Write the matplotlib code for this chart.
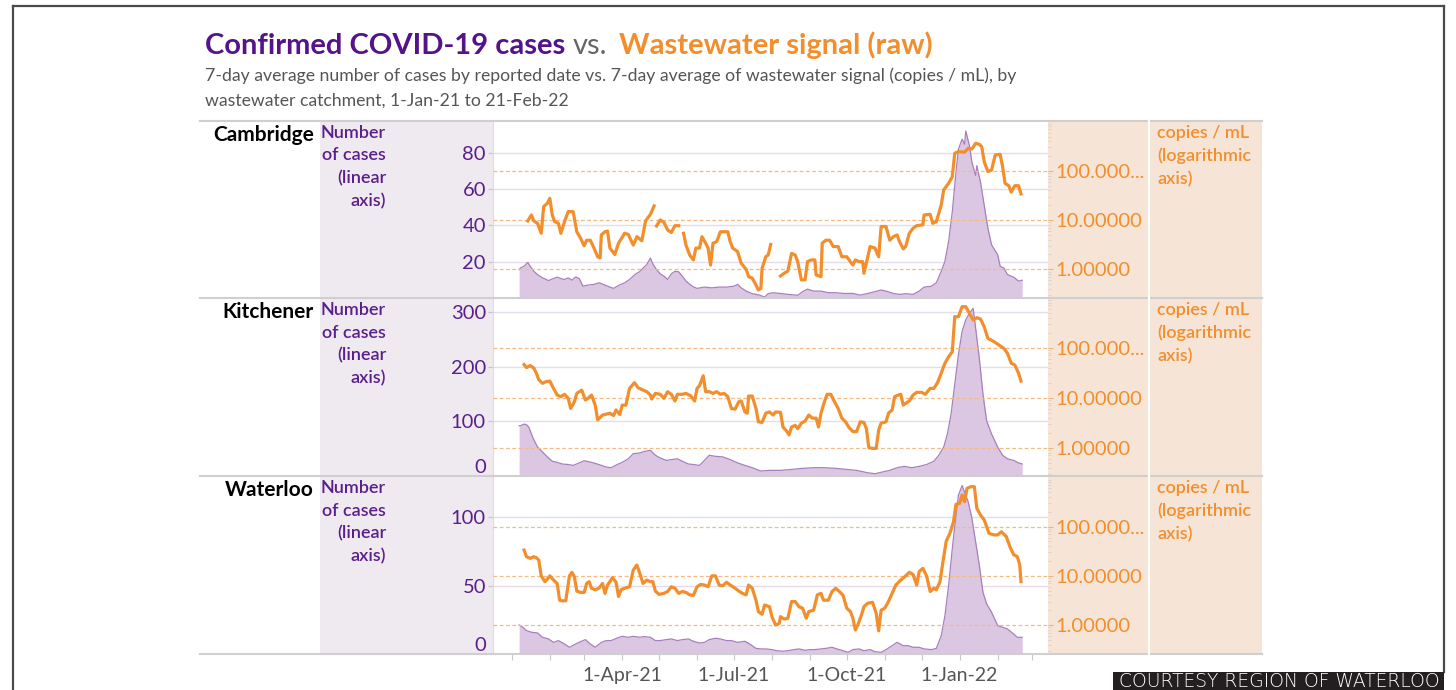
import numpy as np
import pandas as pd
import matplotlib
matplotlib.use("Agg")
import matplotlib.pyplot as plt
import matplotlib.dates as mdates
from matplotlib.patches import Rectangle
from matplotlib.lines import Line2D
from matplotlib.ticker import FixedLocator, FixedFormatter, NullFormatter, LogLocator, FuncFormatter

plt.rcParams['font.family'] = ['Lato', 'DejaVu Sans']

nan = np.nan
START = pd.Timestamp('2021-01-01')   # day 0 of the day offsets below

# ---- data: (days since 1-Jan-21, value) ----
# wastewater signal, copies / mL (7-day avg); nan = gap in the line
cambridge_ww = [(13, 9.6), (16, 12.7), (18, 9.6), (21, 8.6), (24, 5.4), (26, 18.8), (29, 21.9), (31, 27.7),
                (33, 12.7), (35, 9.3), (38, 8.6), (40, 5.4), (43, 9.3), (46, 14.9), (50, 14.9), (53, 5.8),
                (56, 4.3), (59, 3.0), (61, 3.9), (64, 3.9), (67, 2.7), (70, 1.8), (72, 1.7), (73, 5.0),
                (76, 5.8), (78, 6.0), (80, 2.7), (84, 2.0), (87, 3.4), (92, 5.4), (95, 5.1), (99, 3.1),
                (102, 4.6), (106, 3.8), (109, 9.6), (113, 13.1), (116, 19.4), (117, nan), (118, 7.6),
                (121, 10.1), (124, 9.0), (127, 6.3), (130, 5.6), (133, 7.7), (136, 7.7), (138, nan),
                (140, 5.4), (142, 3.1), (145, 1.95), (148, 1.55), (150, 2.7), (153, 2.7), (155, 4.6),
                (158, 3.4), (160, 2.7), (162, 1.22), (164, 3.4), (167, 3.65), (170, 5.8), (176, 5.8),
                (178, 3.65), (180, 2.7), (184, 2.3), (187, 1.32), (191, 1.0), (193, 0.71), (196, 0.66),
                (199, 0.48), (201, 0.38), (203, 0.41), (204, 1.05), (207, 1.8), (209, 1.95), (211, 3.2),
                (215, nan), (219, 0.73), (222, 0.83), (225, 0.92), (228, 2.1), (231, 1.95), (233, 1.43),
                (236, 0.61), (239, 0.61), (241, 1.43), (244, 1.55), (247, 1.55), (248, 0.77), (252, 0.71),
                (253, 3.4), (256, 3.9), (259, 3.9), (262, 2.9), (266, 2.9), (269, 1.8), (273, 1.8),
                (276, 1.43), (278, 1.22), (280, 1.55), (283, 1.43), (286, 1.43), (287, 0.83), (290, 1.73),
                (292, 2.9), (296, 2.7), (299, 1.8), (301, 7.4), (305, 7.4), (308, 3.9), (311, 4.6),
                (314, 5.0), (316, 3.65), (319, 2.6), (321, 2.9), (324, 5.4), (327, 6.8), (330, 7.7),
                (335, 8.0), (336, 12.7), (341, 13.1), (343, 8.6), (346, 9.3), (350, 20.3), (352, 41),
                (356, 56), (359, 76), (361, 228), (364, 246), (369, 239), (372, 288), (375, 279),
                (378, 364), (381, 347), (383, 311), (385, 154), (388, 97), (391, 104), (394, 211),
                (398, 217), (400, 122), (402, 56), (405, 50), (407, 37), (410, 50), (413, 50), (415, 34)]

kitchener_ww = [(10, 46), (12, 40), (15, 44), (18, 39), (20, 31), (22, 23), (25, 19.4), (28, 21), (31, 21.5),
                (34, 15.4), (37, 11.3), (40, 10.5), (43, 11.7), (46, 9.7), (48, 6.1), (51, 8.3), (53, 12.2),
                (57, 14.2), (60, 9.0), (62, 9.7), (65, 11.3), (68, 7.1), (70, 3.6), (74, 4.5), (80, 4.9),
                (83, 4.4), (85, 5.7), (88, 4.6), (90, 7.1), (93, 7.1), (96, 15.4), (100, 20), (103, 15.8),
                (107, 14.2), (110, 13.2), (113, 11.3), (114, 9.4), (117, 12.2), (121, 11.7), (124, 9.7),
                (127, 13.2), (130, 11.7), (133, 8.6), (135, 11.7), (139, 11.7), (142, 12.2), (146, 10.8),
                (149, 8.6), (151, 15.4), (153, 17.4), (156, 27.5), (158, 13.2), (161, 13.2), (164, 12.2),
                (167, 13.2), (170, 11.7), (173, 12.2), (176, 10.5), (179, 6.1), (182, 5.9), (185, 8.3),
                (187, 8.6), (190, 5.2), (192, 4.9), (193, 10.8), (196, 10.8), (199, 6.1), (201, 3.3),
                (204, 3.2), (207, 4.9), (210, 5.2), (213, 4.5), (215, 5.2), (219, 5.1), (221, 2.6),
                (224, 2.15), (226, 1.8), (228, 2.6), (231, 2.8), (233, 2.4), (236, 3.1), (239, 3.4),
                (242, 4.5), (245, 3.9), (248, 3.9), (250, 2.6), (252, 4.9), (255, 8.6), (257, 11.7),
                (260, 11.7), (263, 8.3), (266, 6.1), (269, 3.9), (272, 3.3), (275, 2.5), (278, 2.1),
                (281, 2.1), (284, 3.3), (287, 3.2), (289, 2.4), (291, 1.0), (294, 0.97), (297, 0.97),
                (299, 2.25), (301, 3.1), (305, 3.3), (307, 4.9), (310, 5.7), (312, 10.5), (315, 11.3),
                (317, 11.7), (319, 7.1), (321, 7.7), (324, 8.6), (327, 11.3), (330, 12.8), (334, 12.8),
                (337, 11.7), (341, 15.4), (344, 15.4), (347, 20), (350, 31), (353, 49), (356, 66),
                (359, 83), (361, 417), (364, 417), (367, 661), (370, 661), (373, 486), (376, 357),
                (379, 398), (382, 374), (385, 263), (388, 154), (393, 132), (397, 113), (401, 97),
                (404, 77), (407, 49), (410, 45), (413, 31), (415, 21.5)]

waterloo_ww = [(10, 33.5), (12, 24.5), (15, 22.7), (18, 24.5), (20, 23.4), (22, 21), (24, 10), (27, 7.6),
               (29, 8.6), (31, 10), (34, 8.2), (37, 7.0), (39, 3.2), (41, 3.1), (44, 3.1), (47, 10),
               (49, 11.8), (51, 9.6), (53, 4.9), (56, 4.6), (59, 4.6), (61, 7.0), (63, 7.6), (65, 5.6),
               (68, 5.2), (71, 5.6), (74, 7.0), (76, 4.4), (78, 6.5), (80, 7.6), (82, 9.2), (85, 7.4),
               (87, 3.8), (89, 5.2), (92, 5.6), (96, 6.0), (99, 13.1), (102, 16.6), (105, 10), (107, 7.0),
               (110, 8.2), (113, 7.6), (115, 7.6), (117, 4.9), (120, 4.2), (124, 4.4), (127, 4.8),
               (130, 6.0), (133, 5.6), (136, 4.4), (139, 4.8), (142, 4.6), (145, 4.1), (148, 4.0),
               (151, 6.0), (154, 6.7), (157, 6.5), (160, 6.0), (163, 10), (166, 10), (169, 6.5),
               (172, 6.3), (175, 7.4), (178, 6.5), (182, 5.6), (185, 4.9), (188, 4.4), (191, 4.1),
               (193, 6.5), (196, 5.6), (199, 3.2), (201, 1.87), (204, 1.65), (206, 2.55), (210, 2.36),
               (212, 1.48), (215, 1.0), (218, 1.08), (219, 1.48), (222, 1.32), (225, 1.37), (228, 3.0),
               (231, 3.0), (234, 2.36), (237, 2.2), (240, 1.37), (242, 1.87), (246, 2.0), (249, 4.1),
               (252, 4.4), (254, 3.2), (258, 3.2), (261, 4.8), (264, 5.6), (267, 4.8), (270, 4.0),
               (273, 2.2), (276, 1.87), (278, 1.37), (280, 0.79), (282, 1.0), (285, 1.6), (287, 2.36),
               (290, 2.76), (294, 2.9), (297, 1.73), (299, 0.76), (301, 2.0), (304, 2.2), (307, 3.0),
               (310, 4.4), (313, 6.5), (317, 8.2), (321, 10), (324, 11.8), (327, 10.7), (330, 6.5),
               (332, 12.2), (335, 14.2), (338, 10), (341, 4.8), (344, 5.6), (346, 5.2), (349, 7.6),
               (351, 16.6), (354, 50), (357, 73), (360, 126), (362, 285), (365, 298), (367, 441),
               (369, 322), (371, 602), (374, 651), (377, 651), (379, 236), (382, 173), (385, 137),
               (389, 73), (393, 68), (396, 68), (399, 79), (403, 63), (406, 39), (409, 27), (412, 24.5),
               (414, 16.6), (415, 7.6)]

# confirmed cases (7-day avg)
cambridge_cases = [(6, 15.6), (7, 16.5), (10, 17.5), (13, 19.6), (15, 17.5), (18, 14.7), (21, 12.9), (25, 11.1),
                   (30, 9.6), (34, 10.7), (37, 11.5), (40, 10.7), (43, 10.2), (46, 11.1), (49, 9.8), (52, 11.6),
                   (55, 10.7), (58, 6.5), (62, 7.1), (67, 7.5), (71, 8.4), (76, 7.1), (80, 6.0), (83, 5.3),
                   (87, 6.9), (92, 8.4), (96, 10.2), (101, 13.3), (104, 14.4), (107, 16.5), (110, 18.4),
                   (113, 22.0), (115, 18.7), (118, 15.6), (121, 13.3), (124, 12.0), (127, 10.2), (130, 13.3),
                   (133, 14.7), (136, 14.4), (139, 12.0), (142, 9.3), (147, 6.5), (151, 5.3), (157, 6.0),
                   (163, 5.6), (169, 6.0), (175, 6.0), (181, 6.5), (184, 7.5), (187, 5.6), (191, 3.8),
                   (196, 2.4), (202, 1.6), (206, 0.5), (209, 2.4), (213, 2.9), (219, 2.5), (225, 2.0),
                   (233, 1.5), (237, 3.5), (241, 4.9), (246, 3.8), (252, 3.8), (258, 2.9), (264, 2.9),
                   (271, 2.5), (278, 2.5), (284, 1.6), (290, 2.5), (296, 3.5), (301, 4.4), (305, 3.8),
                   (311, 2.5), (316, 2.0), (321, 2.4), (327, 2.0), (332, 3.8), (336, 6.0), (342, 6.5),
                   (346, 8.4), (350, 14.7), (353, 20.2), (356, 31.1), (359, 47.5), (362, 69.3), (364, 82),
                   (367, 87.5), (369, 84.7), (370, 92), (373, 83.8), (375, 74.7), (378, 67.5), (379, 72.9),
                   (382, 63.8), (385, 51.1), (388, 38.4), (391, 29.3), (396, 23.8), (398, 17.5), (401, 16.5),
                   (404, 12.9), (409, 11.5), (413, 9.3), (416, 9.8)]

kitchener_cases = [(6, 92), (7, 92), (10, 95), (12, 94), (14, 89), (17, 71), (21, 53), (25, 44), (29, 35),
                   (33, 27), (37, 25), (41, 22), (46, 21), (50, 19.4), (55, 24), (59, 28), (65, 25), (71, 21),
                   (77, 16.4), (81, 15.2), (86, 21), (90, 25), (95, 31.5), (99, 41), (104, 42), (108, 45),
                   (113, 47), (117, 38), (121, 33), (126, 28.5), (130, 30), (135, 31.5), (139, 27), (144, 22),
                   (148, 21), (153, 19.4), (157, 28.5), (161, 38), (166, 36), (172, 35), (178, 30), (184, 24),
                   (190, 19.4), (196, 15.2), (203, 9.1), (210, 10.3), (219, 10.3), (228, 12), (237, 14),
                   (246, 15.2), (255, 15.2), (264, 14), (273, 12), (281, 10.3), (290, 6), (296, 4.2),
                   (302, 7.3), (308, 10.3), (314, 15.2), (320, 17.6), (326, 15.2), (332, 17.6), (338, 21),
                   (344, 27), (348, 38), (352, 53), (355, 77), (358, 113), (361, 168), (364, 222), (367, 265),
                   (370, 286), (373, 298), (376, 307), (378, 271), (381, 216), (384, 150), (387, 101),
                   (391, 77), (396, 53), (400, 38), (404, 31.5), (409, 28.5), (413, 24), (416, 22)]

waterloo_cases = [(6, 21.2), (9, 19.5), (12, 17.1), (16, 15.9), (21, 15.4), (25, 12.2), (30, 11.0), (34, 8.5),
                  (38, 9.8), (43, 7.3), (47, 4.9), (52, 7.3), (56, 9.0), (60, 10.5), (64, 7.3), (68, 4.9),
                  (73, 8.5), (77, 9.8), (81, 9.8), (86, 11.7), (90, 12.9), (95, 12.2), (99, 12.9), (104, 12.2),
                  (108, 12.7), (113, 12.2), (117, 9.8), (121, 9.8), (126, 10.5), (130, 11.0), (135, 9.8),
                  (139, 10.5), (144, 11.0), (148, 9.3), (153, 8.0), (157, 8.5), (161, 10.5), (166, 11.5),
                  (170, 11.0), (175, 9.8), (179, 9.8), (184, 8.5), (190, 9.3), (194, 7.3), (199, 4.1),
                  (203, 3.7), (207, 3.7), (212, 3.2), (216, 2.4), (221, 2.0), (225, 2.4), (230, 3.2),
                  (234, 3.7), (239, 2.7), (243, 3.2), (247, 3.2), (252, 3.7), (256, 4.1), (261, 4.9),
                  (265, 3.7), (270, 2.4), (274, 1.2), (278, 3.2), (283, 3.7), (287, 2.4), (292, 3.2),
                  (296, 1.7), (301, 1.2), (305, 3.2), (310, 6.1), (314, 8.5), (319, 6.1), (323, 6.1),
                  (327, 4.9), (332, 4.9), (336, 3.7), (342, 3.2), (346, 4.1), (350, 13.4), (353, 28),
                  (356, 50), (359, 77), (362, 101), (364, 116), (367, 123), (369, 118), (372, 111), (375, 99),
                  (378, 82), (381, 65), (384, 45), (387, 36.6), (391, 30.5), (396, 20.7), (400, 19.5),
                  (404, 18.3), (409, 14.6), (412, 12.2), (416, 12.2)]

regions = ['Cambridge', 'Kitchener', 'Waterloo']
case_ticks = [[20, 40, 60, 80], [0, 100, 200, 300], [0, 50, 100]]
case_max = [97.5, 326, 130]
log_lims = [(0.261, 1033), (0.272, 986), (0.257, 1075)]
log_ticks = [1, 10, 100]
log_labels = ['1.00000', '10.00000', '100.000...']
quarter_labels = ['1-Apr-21', '1-Jul-21', '1-Oct-21', '1-Jan-22']

# ---- colours ----
PURPLE = '#5B1F8C'
ORANGE = '#F28E2B'
AREA = '#DCC7E2'
AREA_EDGE = '#A680BC'
LAV_BG = '#EFE9F0'
PEACH_BG = '#F6E5D6'

W, H = 1456, 690
fig = plt.figure(figsize=(W / 100, H / 100), dpi=100)
fig.patch.set_facecolor('white')


def fx(x):
    return x / W


def fy(y):
    return 1 - y / H


def hline(x0, x1, y, **kw):
    fig.add_artist(Line2D([fx(x0), fx(x1)], [fy(y), fy(y)], transform=fig.transFigure, **kw))


def vline(x, y0, y1, **kw):
    fig.add_artist(Line2D([fx(x), fx(x)], [fy(y0), fy(y1)], transform=fig.transFigure, **kw))


def date_label(v):
    d = mdates.num2date(v)
    s = f"{d.day}-{d:%b-%y}"
    return s if s in quarter_labels else ''


# page frame
vline(13, 6, 690, color='#4a4a4a', lw=1.6)
hline(13, 1444, 6, color='#4a4a4a', lw=1.6)
vline(1444, 6, 672, color='#4a4a4a', lw=1.6)

# column backgrounds
fig.add_artist(Rectangle((fx(320), fy(654)), (493 - 320) / W, (654 - 121) / H,
                         transform=fig.transFigure, facecolor=LAV_BG, edgecolor='none', zorder=0))
fig.add_artist(Rectangle((fx(1048), fy(654)), (1262 - 1048) / W, (654 - 121) / H,
                         transform=fig.transFigure, facecolor=PEACH_BG, edgecolor='none', zorder=0))

# title
renderer = fig.canvas.get_renderer()
x = 205
for txt, col, wt, gap in [('Confirmed COVID-19 cases', '#55128A', 'bold', 7),
                          ('vs.', '#666666', 'normal', 12),
                          ('Wastewater signal (raw)', ORANGE, 'bold', 0)]:
    t = fig.text(fx(x), fy(54), txt, color=col, fontsize=21, fontweight=wt, va='baseline')
    x = t.get_window_extent(renderer).x1 + gap
fig.text(fx(205), fy(81), '7-day average number of cases by reported date vs. 7-day average of '
         'wastewater signal (copies / mL), by', color='#555555', fontsize=12.7, va='baseline')
fig.text(fx(205), fy(106), 'wastewater catchment, 1-Jan-21 to 21-Feb-22',
         color='#555555', fontsize=12.7, va='baseline')

xmin = START - pd.Timedelta(days=15.3)
xmax = START + pd.Timedelta(days=437)

tops = [121, 298, 476]
bots = [298, 476, 654]
cases_all = [cambridge_cases, kitchener_cases, waterloo_cases]
ww_all = [cambridge_ww, kitchener_ww, waterloo_ww]

for i, name in enumerate(regions):
    top, bot = tops[i], bots[i]
    ax = fig.add_axes([fx(493), fy(bot), (1048 - 493) / W, (bot - top) / H])
    ax.set_facecolor('white')
    ax2 = ax.twinx()

    cd, cv = zip(*cases_all[i])
    cdates = START + pd.to_timedelta(list(cd), unit='D')
    ax.fill_between(cdates, 0, cv, color=AREA, lw=0, zorder=2)
    ax.plot(cdates, cv, color=AREA_EDGE, lw=0.9, zorder=3)

    wd, wv = zip(*ww_all[i])
    wdates = START + pd.to_timedelta(list(wd), unit='D')
    ax2.plot(wdates, wv, color=ORANGE, lw=2.3, solid_joinstyle='round', zorder=4)

    ax.set_xlim(xmin, xmax)
    ax.set_ylim(0, case_max[i])
    ax.set_yticks(case_ticks[i], labels=[str(v) for v in case_ticks[i]])
    for lbl in ax.get_yticklabels():
        if lbl.get_text() == '0':
            lbl.set_verticalalignment('bottom')
    ax.yaxis.grid(True, color='#E4DCEA', lw=1.0)
    ax.set_axisbelow(True)
    ax.tick_params(axis='y', colors='#C9C2CE', labelcolor=PURPLE, labelsize=14.5, length=3.6, pad=1.5)

    ax2.set_yscale('log')
    ax2.set_ylim(*log_lims[i])
    ax2.yaxis.set_major_locator(FixedLocator(log_ticks))
    ax2.yaxis.set_major_formatter(FixedFormatter(log_labels))
    ax2.yaxis.set_minor_locator(LogLocator(base=10, subs=np.arange(2, 10)))
    ax2.yaxis.set_minor_formatter(NullFormatter())
    ax2.yaxis.grid(True, which='major', color='#F6B983', lw=0.9, ls=(0, (3, 2)))
    ax2.tick_params(axis='y', which='major', colors='#E9B27E', labelcolor=ORANGE,
                    labelsize=14.5, length=3.6, pad=1.5)
    ax2.tick_params(axis='y', which='minor', colors='#D9CFC6', length=2)

    for a in (ax, ax2):
        for s in a.spines.values():
            s.set_visible(False)
    ax.spines['left'].set_visible(True)
    ax.spines['left'].set_color('#E2DAE6')

    if i < 2:
        ax.tick_params(axis='x', bottom=False, labelbottom=False)
    else:
        ax.xaxis.set_major_locator(mdates.MonthLocator())
        ax.xaxis.set_major_formatter(FuncFormatter(lambda v, pos: date_label(v)))
        ax.tick_params(axis='x', colors='#C8C8C8', labelcolor='#555555', labelsize=14,
                       length=4.3, pad=5)
    ax2.tick_params(axis='x', bottom=False, labelbottom=False)

    # row label and axis titles
    fig.text(fx(314), fy(top + 4), name, ha='right', va='top', fontsize=15,
             fontweight='bold', color='black')
    fig.text(fx(386), fy(top + 4), 'Number\nof cases\n(linear\naxis)', ha='right', va='top',
             ma='right', fontsize=13, color=PURPLE, linespacing=1.5, fontweight='semibold')
    fig.text(fx(1157), fy(top + 4), 'copies / mL\n(logarithmic\naxis)', ha='left', va='top',
             fontsize=13, color=ORANGE, linespacing=1.5, fontweight='semibold')

# row separators and the white divider in the right column
for y in [121, 298, 476, 654]:
    hline(200, 1262, y, color='#CFCFCF', lw=1.5, zorder=5)
vline(1149, 121, 654, color='white', lw=1.5, zorder=5)

# courtesy banner
fig.add_artist(Rectangle((fx(1113), 0), (1444 - 1113) / W, (690 - 672) / H,
                         transform=fig.transFigure, facecolor='#231F20', edgecolor='none', zorder=6))
fig.text(fx(1279), fy(687), 'COURTESY REGION OF WATERLOO', ha='center', va='baseline',
         color='white', fontsize=13.5, fontweight='light', family=['DejaVu Sans'], zorder=7)

fig.savefig('out.png', dpi=100)
